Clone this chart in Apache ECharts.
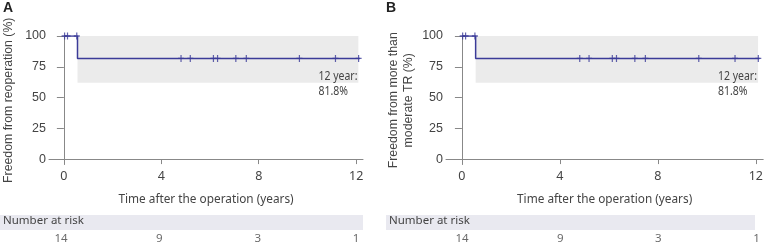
<!DOCTYPE html>
<html>
<head>
<meta charset="utf-8">
<script src="https://cdn.jsdelivr.net/npm/echarts@6/dist/echarts.min.js"></script>
<style>
  html, body { margin: 0; padding: 0; background: #fff; }
  #chart { width: 766px; height: 244px; }
</style>
</head>
<body>
<div id="chart"></div>
<script>
// Kaplan-Meier data (same cohort for both panels)
const stepTimes = [0, 0.56, 12.15];
const stepSurvival = [100, 81.8, 81.8];
const censorTimes = [0.03, 0.15, 0.53, 4.81, 5.19, 6.14, 6.31, 7.06, 7.49, 9.67, 11.15, 12.1];
const censorSurvival = [100, 100, 100, 81.8, 81.8, 81.8, 81.8, 81.8, 81.8, 81.8, 81.8, 81.8];
const ciStart = 0.56, ciEnd = 12.09, ciLower = 62, ciUpper = 100;
const xTicks = [0, 4, 8, 12];
const yTicks = [0, 25, 50, 75, 100];
const riskTimes = [0, 4, 8, 12];
const riskCounts = [14, 9, 3, 1];
const panelLabels = ['A', 'B'];
const yNames = ['Freedom from reoperation (%)', 'Freedom from more than\nmoderate TR (%)'];
const xName = 'Time after the operation (years)';
const annotText = '12 year:\n81.8%';
const annotAt = [10.45, 73.5]; // data coords of the annotation's top-left

const lineColor = '#3b3b98';
const axisColor = '#888';
const textColor = '#444';

// layout per panel
const panels = [
  { left: 46, width: 317, xMin: -0.61, xMax: 12.28, nameGap: 33, bandX: 0, bandW: 363 },
  { left: 446, width: 318, xMin: -0.65, xMax: 12.3, nameGap: 30, bandX: 386, bandW: 369 }
];

const plusPath = 'path://M5,0 L5,10 M0,5 L10,5';

const grids = [], xAxes = [], yAxes = [], series = [], graphics = [];

panels.forEach(function (p, i) {
  grids.push({ left: p.left, width: p.width, top: 36, height: 128.5 });
  grids.push({ left: p.left, width: p.width, top: 234, height: 16 });

  xAxes.push({
    type: 'value', gridIndex: 2 * i, min: p.xMin, max: p.xMax,
    splitLine: { show: false },
    axisLine: { lineStyle: { color: axisColor, width: 1 } },
    axisTick: { length: 5, lineStyle: { color: axisColor }, customValues: xTicks },
    axisLabel: { customValues: xTicks, color: textColor, fontSize: 12.5, margin: 5, fontFamily: 'Noto Sans' },
    name: xName, nameLocation: 'middle', nameGap: 29,
    nameTextStyle: { color: textColor, fontSize: 11.8, fontFamily: 'Noto Sans' }
  });
  xAxes.push({ type: 'value', gridIndex: 2 * i + 1, min: p.xMin, max: p.xMax, show: false });

  yAxes.push({
    type: 'value', gridIndex: 2 * i, min: -4.4, max: 100,
    splitLine: { show: false },
    axisLine: { show: true, lineStyle: { color: axisColor, width: 1 } },
    axisTick: { show: true, length: 7, lineStyle: { color: axisColor }, customValues: yTicks },
    axisLabel: { customValues: yTicks, color: textColor, fontSize: 12.5, margin: 3, fontFamily: 'Liberation Sans' },
    name: yNames[i], nameLocation: 'middle', nameGap: p.nameGap,
    nameTextStyle: { color: textColor, fontSize: 12.3, fontFamily: 'Liberation Sans', lineHeight: 15 }
  });
  yAxes.push({ type: 'value', gridIndex: 2 * i + 1, min: 0, max: 1, show: false });

  series.push({
    type: 'line', xAxisIndex: 2 * i, yAxisIndex: 2 * i,
    step: 'end', symbol: 'none',
    lineStyle: { color: lineColor, width: 1.5 },
    data: stepTimes.map(function (t, k) { return [t, stepSurvival[k]]; }),
    markArea: {
      silent: true,
      itemStyle: { color: '#ebebeb' },
      data: [[{ coord: [ciStart, ciUpper] }, { coord: [ciEnd, ciLower] }]]
    },
    z: 3
  });
  series.push({
    type: 'scatter', xAxisIndex: 2 * i, yAxisIndex: 2 * i,
    symbol: plusPath, symbolSize: [6, 7],
    itemStyle: { color: 'none', borderColor: lineColor, borderWidth: 1.3 },
    data: censorTimes.map(function (t, k) { return [t, censorSurvival[k]]; }),
    z: 4
  });
  // number at risk
  series.push({
    type: 'scatter', xAxisIndex: 2 * i + 1, yAxisIndex: 2 * i + 1,
    symbolSize: 0, silent: true,
    data: riskTimes.map(function (t, k) { return [t, 0.5, riskCounts[k]]; }),
    label: {
      show: true, position: 'inside',
      formatter: function (d) { return d.value[2]; },
      color: textColor, fontSize: 11.5, fontFamily: 'Noto Sans'
    }
  });

  graphics.push({
    type: 'rect', left: p.bandX, top: 215,
    shape: { width: p.bandW, height: 15 },
    style: { fill: '#e9e9f0' }, z: -1
  });
  graphics.push({
    type: 'text', left: p.bandX + 3, top: 215,
    style: { text: 'Number at risk', fill: textColor, font: '11.5px "Noto Sans"' }
  });
  graphics.push({
    type: 'text', left: i === 0 ? 3 : 386, top: 1,
    style: { text: panelLabels[i], fill: '#222', font: 'bold 14px "Liberation Sans"' }
  });
});

const chart = echarts.init(document.getElementById('chart'));
chart.setOption({
  animation: false,
  backgroundColor: '#fff',
  grid: grids,
  xAxis: xAxes,
  yAxis: yAxes,
  series: series,
  graphic: graphics
});

// "12 year" annotation placed through each panel's scales, slightly condensed like the original
const annots = panels.map(function (p, i) {
  const pt = chart.convertToPixel({ gridIndex: 2 * i }, annotAt);
  return {
    type: 'text', x: pt[0], y: pt[1], scaleX: 0.84, z: 20,
    style: { text: annotText, fill: textColor, font: '12.5px "Noto Sans"', lineHeight: 15 }
  };
});
chart.setOption({ graphic: graphics.concat(annots) });
</script>
</body>
</html>
